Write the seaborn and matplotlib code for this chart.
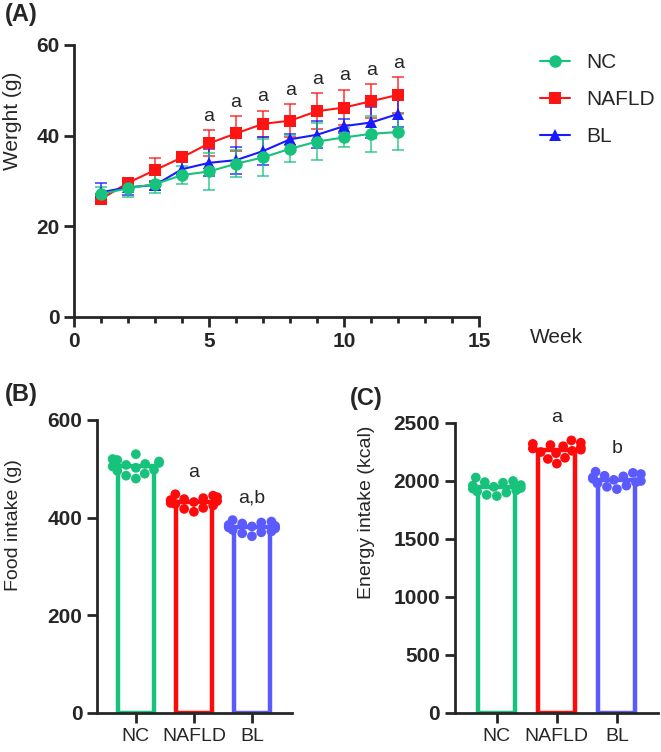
import pandas as pd
import seaborn as sns
import matplotlib.pyplot as plt
from matplotlib.ticker import MultipleLocator

# data
weeks = list(range(1, 13))
nc_mean = [27.1, 28.4, 29.3, 31.3, 32.1, 33.8, 35.2, 37.1, 38.7, 39.6, 40.4, 40.8]
nc_sd = [1.5, 2.0, 2.0, 2.0, 4.0, 3.0, 4.0, 3.0, 4.0, 2.0, 4.0, 4.0]
nafld_mean = [26.0, 29.6, 32.4, 35.2, 38.3, 40.5, 42.6, 43.3, 45.4, 46.2, 47.6, 49.0]
nafld_sd = [1.0, 1.0, 2.6, 0.8, 2.9, 3.8, 2.9, 3.6, 3.9, 3.9, 3.7, 3.9]
bl_mean = [27.5, 28.6, 29.1, 32.6, 34.0, 34.6, 36.6, 39.2, 40.2, 42.1, 42.9, 44.8]
bl_sd = [2.0, 1.8, 1.0, 1.5, 3.0, 3.0, 3.0, 1.2, 3.0, 1.5, 3.5, 3.0]
sig_weeks = [5, 6, 7, 8, 9, 10, 11, 12]

groups = ['NC', 'NAFLD', 'BL']
food_nc = [512, 518, 505, 496, 480, 490, 508, 502, 486, 520, 530, 515, 498, 510]
food_nafld = [438, 440, 425, 430, 412, 420, 436, 442, 448, 428, 434, 418, 445, 432]
food_bl = [385, 378, 372, 362, 380, 388, 392, 395, 375, 370, 383, 390, 368, 382]
energy_nc = [1960, 1990, 1920, 1880, 1870, 1940, 2000, 2030, 1910, 1950, 1965, 1900, 1935, 1985]
energy_nafld = [2300, 2330, 2260, 2240, 2150, 2200, 2320, 2350, 2280, 2270, 2190, 2310, 2250, 2290]
energy_bl = [2040, 2060, 1990, 1950, 1930, 2010, 2070, 2080, 2000, 2020, 1980, 2030, 1960, 2045]
food_sig = ['', 'a', 'a,b']
energy_sig = ['', 'a', 'b']

line_colors = {'NC': '#17c27c', 'NAFLD': '#ff1414', 'BL': '#1a1aff'}
bar_colors = {'NC': '#17c27c', 'NAFLD': '#ff0a0a', 'BL': '#5a5aff'}
markers = {'NC': 'o', 'NAFLD': 's', 'BL': '^'}

sns.set_style('ticks')
plt.rcParams['font.family'] = ['Liberation Sans', 'DejaVu Sans']

fig = plt.figure(figsize=(6.61, 7.52), dpi=100)
axA = fig.add_axes([0.112, 0.5785, 0.613, 0.3617])
axB = fig.add_axes([0.1467, 0.0519, 0.295, 0.3896])
axC = fig.add_axes([0.688, 0.0519, 0.307, 0.3856])

# ---- panel A: body weight ----
series = {'NC': (nc_mean, nc_sd), 'NAFLD': (nafld_mean, nafld_sd), 'BL': (bl_mean, bl_sd)}
for g in ['NAFLD', 'BL', 'NC']:
    m, s = series[g]
    axA.errorbar(weeks, m, yerr=s, fmt='none', ecolor=line_colors[g], alpha=0.8,
                 capsize=4, elinewidth=1.2, capthick=1.2, zorder=2)
    sns.lineplot(x=weeks, y=m, ax=axA, color=line_colors[g], marker=markers[g],
                 markersize=9 if g != 'BL' else 8, markeredgewidth=0,
                 linewidth=1.5, label=g, zorder=3)

for w in sig_weeks:
    i = weeks.index(w)
    axA.text(w, nafld_mean[i] + nafld_sd[i] + 1.2, 'a', ha='center', va='bottom', fontsize=14)

axA.set_xlim(0, 15)
axA.set_ylim(0, 60)
axA.set_yticks([0, 20, 40, 60])
axA.set_xticks([0, 5, 10, 15])
axA.xaxis.set_minor_locator(MultipleLocator(1))
axA.tick_params(axis='both', which='major', width=2, length=7, labelsize=15)
axA.tick_params(axis='x', which='minor', width=2, length=4)
for lab in axA.get_xticklabels() + axA.get_yticklabels():
    lab.set_fontweight('bold')
axA.set_ylabel('Werght (g)', fontsize=15)
axA.yaxis.set_label_coords(-0.128, 0.72)
axA.text(1.19, -0.074, 'Week', transform=axA.transAxes, ha='center', va='center', fontsize=15)
sns.despine(ax=axA)
for sp in ['left', 'bottom']:
    axA.spines[sp].set_linewidth(2)

h, l = axA.get_legend_handles_labels()
order = [l.index(g) for g in groups]
axA.legend([h[i] for i in order], groups, loc='upper left', bbox_to_anchor=(1.12, 1.015),
           frameon=False, fontsize=15, handlelength=1.4, labelspacing=0.85, handletextpad=0.8,
           borderaxespad=0.2)

# ---- panels B and C: bars with individual points ----
def bar_panel(ax, values, ylim, ticks, ylabel, sig, offset):
    df = pd.DataFrame({'group': [g for g, v in zip(groups, values) for _ in v],
                       'value': [x for v in values for x in v]})
    sns.barplot(data=df, x='group', y='value', hue='group', order=groups, hue_order=groups,
                palette=bar_colors, errorbar=None, width=0.62, saturation=1, ax=ax, legend=False)
    for p in ax.patches:
        c = p.get_facecolor()
        p.set_facecolor('white')
        p.set_edgecolor(c)
        p.set_linewidth(3.2)
    sns.swarmplot(data=df, x='group', y='value', hue='group', order=groups, hue_order=groups,
                  palette=bar_colors, size=7, ax=ax, legend=False, zorder=3)
    for k, g in enumerate(groups):
        if sig[k]:
            ax.text(k, max(values[k]) + offset, sig[k], ha='center', va='center', fontsize=14)
    ax.set_xlim(-0.67, 2.69)
    ax.set_ylim(*ylim)
    ax.set_yticks(ticks)
    ax.set_xlabel('')
    ax.set_ylabel(ylabel, fontsize=14)
    ax.tick_params(axis='both', width=2, length=7)
    ax.tick_params(axis='y', labelsize=15)
    ax.tick_params(axis='x', labelsize=14)
    for lab in ax.get_yticklabels():
        lab.set_fontweight('bold')
    sns.despine(ax=ax)
    for sp in ['left', 'bottom']:
        ax.spines[sp].set_linewidth(2)
        ax.spines[sp].set_zorder(5)

bar_panel(axB, [food_nc, food_nafld, food_bl], (0, 600), [0, 200, 400, 600],
          'Food intake (g)', food_sig, 45)
axB.yaxis.set_label_coords(-0.385, 0.64)
bar_panel(axC, [energy_nc, energy_nafld, energy_bl], (0, 2500), [0, 500, 1000, 1500, 2000, 2500],
          'Energy intake (kcal)', energy_sig, 200)
axC.yaxis.set_label_coords(-0.395, 0.693)
axC.set_xlim(-0.7, 2.68)

fig.text(5 / 661, 1 - 15 / 752, '(A)', fontsize=17, fontweight='bold', ha='left', va='center')
fig.text(5 / 661, 1 - 395 / 752, '(B)', fontsize=17, fontweight='bold', ha='left', va='center')
fig.text(350 / 661, 1 - 398 / 752, '(C)', fontsize=17, fontweight='bold', ha='left', va='center')

fig.savefig('out.png', dpi=100)
